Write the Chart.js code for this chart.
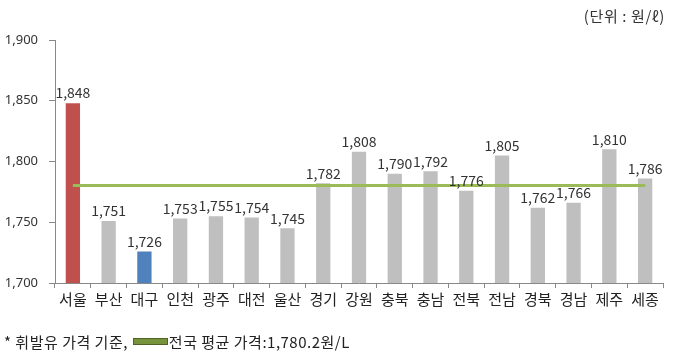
<!DOCTYPE html>
<html><head><meta charset="utf-8">
<script src="https://cdn.jsdelivr.net/npm/chart.js@4/dist/chart.umd.min.js"></script>
<style>
html,body{margin:0;padding:0;background:#fff;}
#wrap{position:relative;width:673px;height:356px;}
#unit{position:absolute;right:8px;top:5px;font:15px 'Noto Sans CJK KR',sans-serif;color:#333;letter-spacing:0.6px;white-space:pre;}
#foot{position:absolute;left:4px;top:331px;font:15px 'Noto Sans CJK KR',serif;color:#222;display:flex;align-items:center;letter-spacing:0.5px;white-space:pre;}
#sw{display:inline-block;width:33px;height:5px;background:#77933c;border:1px solid #4f6228;margin:0 1px 0 5px;}
</style></head>
<body><div id="wrap"><canvas id="c" width="673" height="356"></canvas>
<div id="unit">(단위 : 원/ℓ)</div>
<div id="foot">* 휘발유 가격 기준,<span id="sw"></span>전국 평균 가격:1,780.2원/L</div></div>
<script>
const categories = ['서울','부산','대구','인천','광주','대전','울산','경기','강원','충북','충남','전북','전남','경북','경남','제주','세종'];
const prices = [1848,1751,1726,1753,1755,1754,1745,1782,1808,1790,1792,1776,1805,1762,1766,1810,1786];
const nationalAvg = 1780.2;
const yTicks = [1700,1750,1800,1850,1900];

const barColors = categories.map(c => c==='서울' ? '#c0504d' : (c==='대구' ? '#4f81bd' : '#bfbfbf'));

const labelPlugin = {
  id:'labels',
  afterDatasetsDraw(chart){
    const ctx = chart.ctx;
    const meta = chart.getDatasetMeta(1);
    ctx.save();
    ctx.font = '14px "Noto Sans CJK KR", sans-serif';
    ctx.fillStyle = '#333';
    ctx.textAlign = 'center';
    ctx.textBaseline = 'bottom';
    meta.data.forEach((el,i)=>{
      ctx.fillText(prices[i].toLocaleString('en-US'), el.x, el.y - 3);
    });
    ctx.restore();
  }
};

new Chart(document.getElementById('c'), {
  data:{
    labels: categories,
    datasets:[
      {type:'line', data: categories.map(()=>nationalAvg), borderColor:'#9bbb59', borderWidth:3, pointRadius:0, order:0},
      {type:'bar', data: prices, backgroundColor: barColors, barPercentage:0.4, categoryPercentage:1.0, order:1}
    ]
  },
  options:{
    responsive:false, animation:false,
    layout:{padding:{top:40,right:10,bottom:45,left:0}},
    plugins:{legend:{display:false}, tooltip:{enabled:false}},
    scales:{
      x:{
        offset:true,
        grid:{offset:true, drawOnChartArea:false, color:'#888', tickLength:5},
        border:{color:'#888'},
        ticks:{color:'#222', font:{size:15, family:'"Noto Sans CJK KR", sans-serif'}, padding:2, maxRotation:0, autoSkip:false},
        afterFit(s){ s.height = 28; }
      },
      y:{
        min:1700, max:1900,
        afterBuildTicks(s){ s.ticks = yTicks.map(v=>({value:v})); },
        grid:{drawOnChartArea:false, color:'#888', tickLength:6},
        border:{color:'#888'},
        ticks:{color:'#333', font:{size:13, family:'"Noto Sans", sans-serif'}, padding:11,
          callback:v=>v.toLocaleString('en-US')},
        afterFit(s){ s.width = 55; }
      }
    }
  },
  plugins:[labelPlugin]
});
</script></body></html>
